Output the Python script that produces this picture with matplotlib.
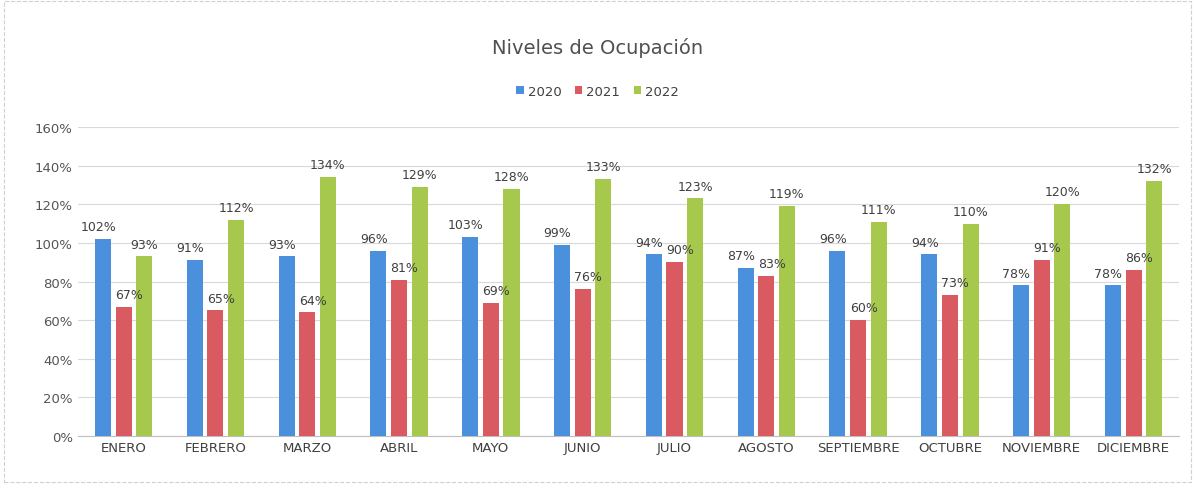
import matplotlib.pyplot as plt
import numpy as np

meses = ['ENERO', 'FEBRERO', 'MARZO', 'ABRIL', 'MAYO', 'JUNIO', 'JULIO',
         'AGOSTO', 'SEPTIEMBRE', 'OCTUBRE', 'NOVIEMBRE', 'DICIEMBRE']
v2020 = [102, 91, 93, 96, 103, 99, 94, 87, 96, 94, 78, 78]
v2021 = [67, 65, 64, 81, 69, 76, 90, 83, 60, 73, 91, 86]
v2022 = [93, 112, 134, 129, 128, 133, 123, 119, 111, 110, 120, 132]

colores = ['#4a90dc', '#d95a60', '#a6c84c']
series = [('2020', v2020), ('2021', v2021), ('2022', v2022)]

fig = plt.figure(figsize=[11.95, 4.85], dpi=100)
ax = fig.add_axes([0.065, 0.099, 0.922, 0.637])

x = np.arange(len(meses))
ancho = 0.175
paso = 0.225
desplaza = [-0.05, 0.06, 0.0]  # small nudge so neighbouring labels don't collide
for i, (nombre, vals) in enumerate(series):
    pos = x + (i - 1) * paso
    ax.bar(pos, vals, width=ancho, color=colores[i], label=nombre, zorder=3)
    for p, v in zip(pos, vals):
        ax.text(p + desplaza[i], v + 3, f'{v}%', ha='center', va='bottom',
                fontsize=9, color='#404040', zorder=4)

ax.set_ylim(0, 160)
ax.set_xlim(-0.5, len(meses) - 0.5)
ax.set_yticks(range(0, 161, 20))
ax.set_yticklabels([f'{t}%' for t in range(0, 161, 20)], fontsize=9.5, color='#555555')
ax.set_xticks(x)
ax.set_xticklabels(meses, fontsize=9.5, color='#404040')
ax.tick_params(length=0)
ax.grid(axis='y', color='#d9d9d9', linewidth=0.8, zorder=0)
for s in ['top', 'right', 'left']:
    ax.spines[s].set_visible(False)
ax.spines['bottom'].set_color('#bfbfbf')

fig.text(0.5, 0.9, 'Niveles de Ocupación', ha='center', va='center',
         fontsize=14, color='#505050')
fig.legend(loc='center', bbox_to_anchor=(0.5, 0.81), ncol=3, frameon=False,
           fontsize=9.5, handlelength=0.6, handleheight=0.6,
           handletextpad=0.3, columnspacing=1.0, labelcolor='#404040')

borde = plt.Rectangle((0.003, 0.005), 0.994, 0.99, transform=fig.transFigure,
                      fill=False, edgecolor='#d0d0d0', linewidth=0.8, linestyle='--')
fig.patches.append(borde)

plt.savefig('out.png', dpi=100)
